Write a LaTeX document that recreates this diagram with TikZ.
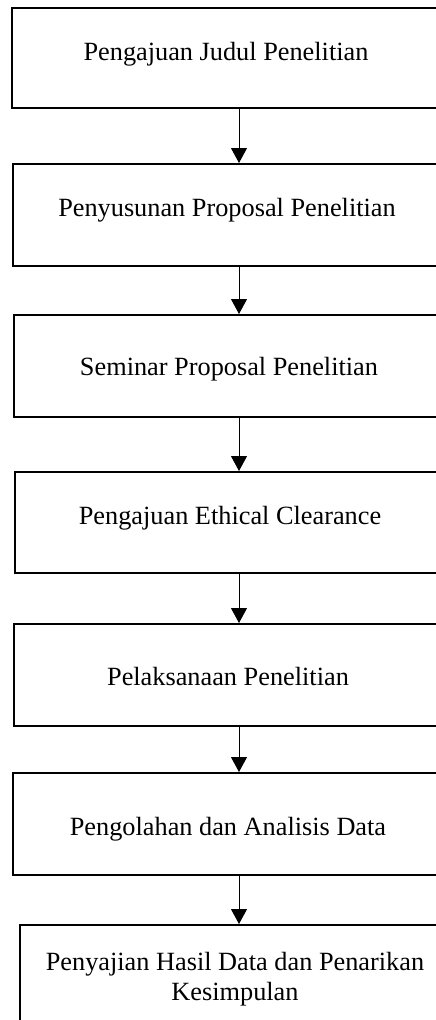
\documentclass[tikz,border=0pt]{standalone}
\usepackage{fontspec}
\setmainfont{Liberation Serif}
\usetikzlibrary{arrows.meta}
\begin{document}
\begin{tikzpicture}[x=1pt,y=-1pt,
  stepbox/.style={draw,rectangle,line width=2pt,inner sep=0pt},
  steptext/.style={anchor=base,inner sep=0pt,align=center,font=\fontsize{26.3}{30}\selectfont},
  arr/.style={line width=1pt,-{Triangle[length=15pt,width=16pt]}}]
\useasboundingbox (0,0) rectangle (436,1020);
\clip (0,0) rectangle (436,1020);
\node[stepbox,minimum width=454pt,minimum height=100pt] (b1) at (239,58) {};
\node[stepbox,minimum width=452pt,minimum height=102pt] (b2) at (239,215) {};
\node[stepbox,minimum width=450pt,minimum height=102pt] (b3) at (239,366) {};
\node[stepbox,minimum width=448pt,minimum height=101pt] (b4) at (239,522.5) {};
\node[stepbox,minimum width=450pt,minimum height=102pt] (b5) at (239,675) {};
\node[stepbox,minimum width=452pt,minimum height=102pt] (b6) at (239,824) {};
\node[stepbox,minimum width=438pt,minimum height=102pt] (b7) at (239,976) {};
\node[steptext] (t1) at (226,60) {Pengajuan Judul Penelitian};
\node[steptext] (t2) at (227,216) {Penyusunan Proposal Penelitian};
\node[steptext] (t3) at (229,375) {Seminar Proposal Penelitian};
\node[steptext] (t4) at (230,524) {Pengajuan Ethical Clearance};
\node[steptext] (t5) at (228,685) {Pelaksanaan Penelitian};
\node[steptext] (t6) at (228,835) {Pengolahan dan Analisis Data};
\node[steptext] (t7) at (235,1000) {Penyajian Hasil Data dan Penarikan\\Kesimpulan};
\draw[arr] (b1.south) -- (b2.north);
\draw[arr] (b2.south) -- (b3.north);
\draw[arr] (b3.south) -- (b4.north);
\draw[arr] (b4.south) -- (b5.north);
\draw[arr] (b5.south) -- (b6.north);
\draw[arr] (b6.south) -- (b7.north);
\end{tikzpicture}
\end{document}
